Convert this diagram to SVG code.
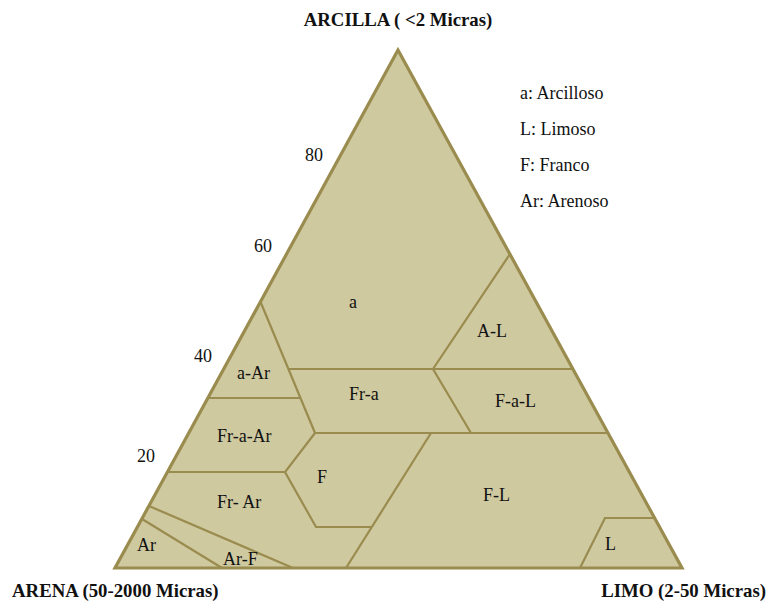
<svg xmlns="http://www.w3.org/2000/svg" width="767" height="602" viewBox="0 0 767 602">
<style>
.t{font-family:"Liberation Serif","Times New Roman",serif;font-size:18px;fill:#111}
.b{font-family:"Liberation Serif","Times New Roman",serif;font-size:18.8px;font-weight:bold;fill:#111}
.ln{fill:none;stroke:#9A8B4E;stroke-width:2.2;stroke-linejoin:miter}
.tri{fill:#CFC9A0;stroke:#9A8B4E;stroke-width:3.2;stroke-linejoin:miter}
</style>
<rect width="767" height="602" fill="#ffffff"/>
<g id="triangle"><polygon class="tri" points="398,50 115,568 682,568"/></g>
<g id="connectors">
<path class="ln" d="M261,303 L315,433"/>
<path class="ln" d="M288,369 H573"/>
<path class="ln" d="M510,254 L433,369 L471,433"/>
<path class="ln" d="M208,398 H301"/>
<path class="ln" d="M315,433 H608"/>
<path class="ln" d="M315,433 L285,472 L316,527 H372"/>
<path class="ln" d="M167,472 H285"/>
<path class="ln" d="M431,433 L346,568"/>
<path class="ln" d="M580,568 L605,518 H655"/>
<path class="ln" d="M149,506 L293,568"/>
<path class="ln" d="M142,519 L222,568"/>
</g>
<g id="axis-titles">
<text class="b" x="398" y="26" text-anchor="middle">ARCILLA ( &lt;2 Micras)</text>
<text class="b" x="12" y="597">ARENA (50-2000 Micras)</text>
<text class="b" x="766" y="597" text-anchor="end">LIMO (2-50 Micras)</text>
</g>
<g id="scale">
<text class="t" x="305" y="161">80</text>
<text class="t" x="254" y="252">60</text>
<text class="t" x="194" y="362">40</text>
<text class="t" x="137" y="462">20</text>
</g>
<g id="legend">
<text class="t" x="520" y="99">a: Arcilloso</text>
<text class="t" x="520" y="135">L: Limoso</text>
<text class="t" x="520" y="171">F: Franco</text>
<text class="t" x="520" y="207">Ar: Arenoso</text>
</g>
<g id="region-a"><text class="t" x="349" y="308">a</text></g>
<g id="region-a-Ar"><text class="t" x="237" y="379">a-Ar</text></g>
<g id="region-Fr-a"><text class="t" x="349" y="400">Fr-a</text></g>
<g id="region-A-L"><text class="t" x="477" y="337">A-L</text></g>
<g id="region-F-a-L"><text class="t" x="495" y="407">F-a-L</text></g>
<g id="region-Fr-a-Ar"><text class="t" x="217" y="442">Fr-a-Ar</text></g>
<g id="region-F"><text class="t" x="317" y="483">F</text></g>
<g id="region-Fr-Ar"><text class="t" x="217" y="508">Fr- Ar</text></g>
<g id="region-F-L"><text class="t" x="483" y="501">F-L</text></g>
<g id="region-Ar"><text class="t" x="137" y="551">Ar</text></g>
<g id="region-Ar-F"><text class="t" x="223" y="565">Ar-F</text></g>
<g id="region-L"><text class="t" x="605" y="550">L</text></g>
</svg>
